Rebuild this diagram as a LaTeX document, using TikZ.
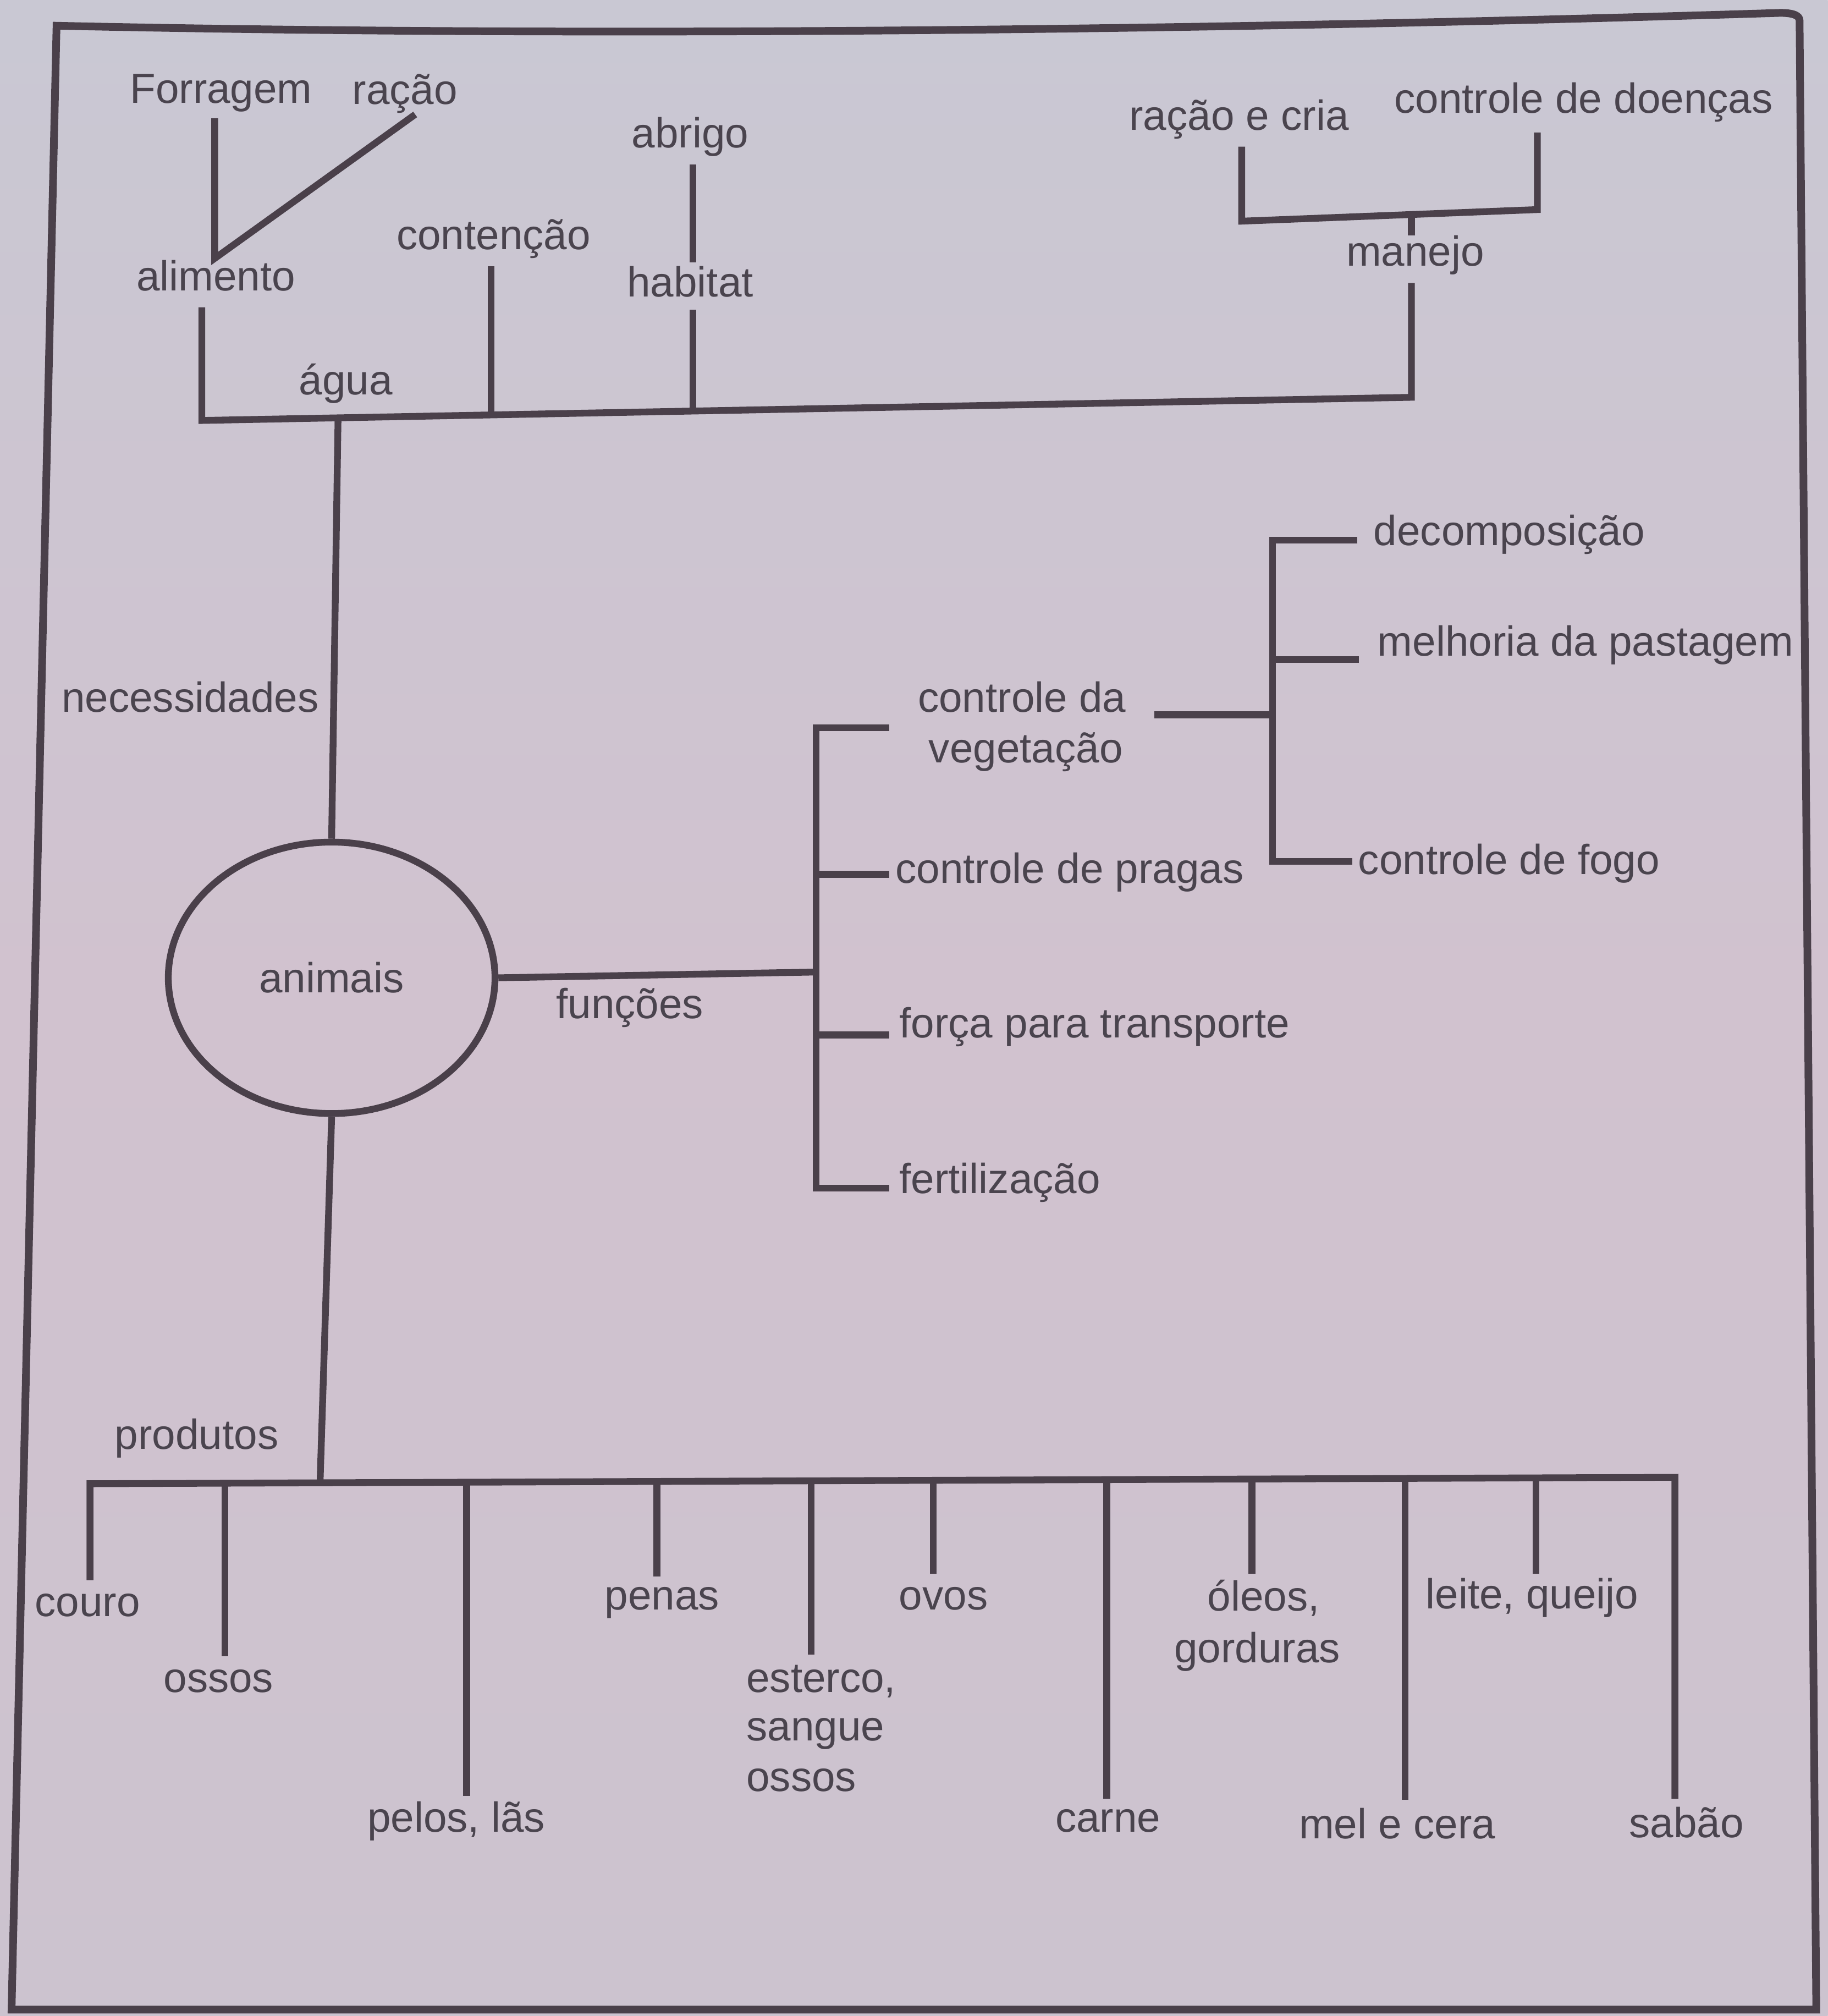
\documentclass[tikz,border=0pt]{standalone}
\usepackage{fontspec}
\setmainfont{Liberation Sans}
\usetikzlibrary{shapes.geometric}
\definecolor{linec}{RGB}{74,64,74}
\definecolor{textc}{RGB}{74,68,78}
\definecolor{bgtop}{RGB}{201,200,211}
\definecolor{bgmid}{RGB}{209,194,207}
\definecolor{bgbot}{RGB}{204,195,207}
\begin{document}
\begin{tikzpicture}[x=0.01cm,y=-0.01cm,
  ln/.style={line width=1.5pt, draw=linec, line cap=butt, line join=miter},
  lbl/.style={font=\fontsize{9.3}{11.4}\selectfont, text=textc, inner sep=0pt, anchor=base},
  lbll/.style={lbl, anchor=base west}]
\useasboundingbox (0,0) rectangle (1422,1568);
\shade[top color=bgtop, bottom color=bgbot, middle color=bgmid] (0,0) rectangle (1422,1568);
% frame
\draw[ln, line width=1.7pt] (44,20) .. controls (500,30) and (1000,22) .. (1385,10) .. controls (1395,10) and (1400,12) .. (1400,16) -- (1413,1563) -- (9,1563) -- cycle;

% ---------- top labels ----------
\node[lbl] (forr) at (172,80) {Forragem};
\node[lbl] (racao) at (315,81) {ração};
\node[lbl] (alim) at (168,226) {alimento};
\node[lbl] (cont) at (384,194) {contenção};
\node[lbl] (abrigo) at (537,115) {abrigo};
\node[lbl] (habitat) at (537,231) {habitat};
\node[lbl] (agua) at (269,307) {água};
\node[lbl] (rcria) at (964,101) {ração e cria};
\node[lbl] (cdoenc) at (1232,88) {controle de doenças};
\node[lbl] (manejo) at (1101,207) {manejo};

% ---------- top connectors ----------
\coordinate (vF) at (167,92);
\coordinate (vA) at (167,201);
\coordinate (vR) at (323,89);
\draw[ln] (vF) -- (vA) -- (vR);
\coordinate (barL) at (157,327);
\coordinate (barR) at (1098,309);
\draw[ln] (157,239) -- (barL) -- (barR) -- (1098,220);
\draw[ln] (382,207) -- (382,322.7);
\draw[ln] (539,128) -- (539,204);
\draw[ln] (539,241) -- (539,319.7);
\draw[ln] (966,114) -- (966,172) -- (1196,163) -- (1196,103);
\draw[ln] (1098,167) -- (1098,183);

% ---------- centre ----------
\node[ellipse, draw=linec, line width=1.5pt, minimum width=2.54cm, minimum height=2.11cm, inner sep=0pt,
      font=\fontsize{9.3}{11.4}\selectfont, text=textc] (anim) at (258,760.5) {animais};
\node[lbl] (nec) at (148,554) {necessidades};
\draw[ln] (263,325) -- (anim.north);

\node[lbl] (func) at (490,792) {funções};
\coordinate (fj) at (635,756);
\draw[ln] (anim.east) -- (fj);
\draw[ln] (692,566) -- (635,566) -- (635,924) -- (692,924);
\draw[ln] (635,680) -- (692,680);
\draw[ln] (635,805) -- (692,805);
\node[lbl] (cveg1) at (795,554) {controle da};
\node[lbl] (cveg2) at (798,593) {vegetação};
\node[lbll] (prag) at (696,687) {controle de pragas};
\node[lbll] (forca) at (699,807) {força para transporte};
\node[lbll] (fert) at (699,928) {fertilização};

\draw[ln] (898,556) -- (990,556);
\draw[ln] (1056,420) -- (990,420) -- (990,670) -- (1052,670);
\draw[ln] (990,513) -- (1057,513);
\node[lbll] (decomp) at (1068,424) {decomposição};
\node[lbll] (melh) at (1071,510) {melhoria da pastagem};
\node[lbll] (fogo) at (1056,680) {controle de fogo};

% ---------- bottom ----------
\node[lbl] (prod) at (153,1127) {produtos};
\draw[ln] (anim.south) -- (249,1153);
\draw[ln] (70,1229) -- (70,1154) -- (1303,1149) -- (1303,1399);
\draw[ln] (175,1153.6) -- (175,1288);
\draw[ln] (363,1152.8) -- (363,1397);
\draw[ln] (511,1152.2) -- (511,1226);
\draw[ln] (631,1151.7) -- (631,1287);
\draw[ln] (726,1151.3) -- (726,1224);
\draw[ln] (861,1150.8) -- (861,1399);
\draw[ln] (974,1150.3) -- (974,1224);
\draw[ln] (1093,1149.9) -- (1093,1400);
\draw[ln] (1195,1149.4) -- (1195,1224);

\node[lbl] (couro) at (68,1257) {couro};
\node[lbl] (ossos1) at (170,1316) {ossos};
\node[lbl] (pelos) at (355,1425) {pelos, lãs};
\node[lbl] (penas) at (515,1252) {penas};
\node[lbll] (est1) at (580,1316) {esterco,};
\node[lbll] (est2) at (580,1354) {sangue};
\node[lbll] (est3) at (580,1393) {ossos};
\node[lbl] (ovos) at (734,1252) {ovos};
\node[lbl] (carne) at (862,1425) {carne};
\node[lbl] (oleos) at (983,1253) {óleos,};
\node[lbl] (gord) at (978,1293) {gorduras};
\node[lbl] (mel) at (1087,1430) {mel e cera};
\node[lbl] (leite) at (1192,1251) {leite, queijo};
\node[lbl] (sabao) at (1312,1429) {sabão};
\end{tikzpicture}
\end{document}
